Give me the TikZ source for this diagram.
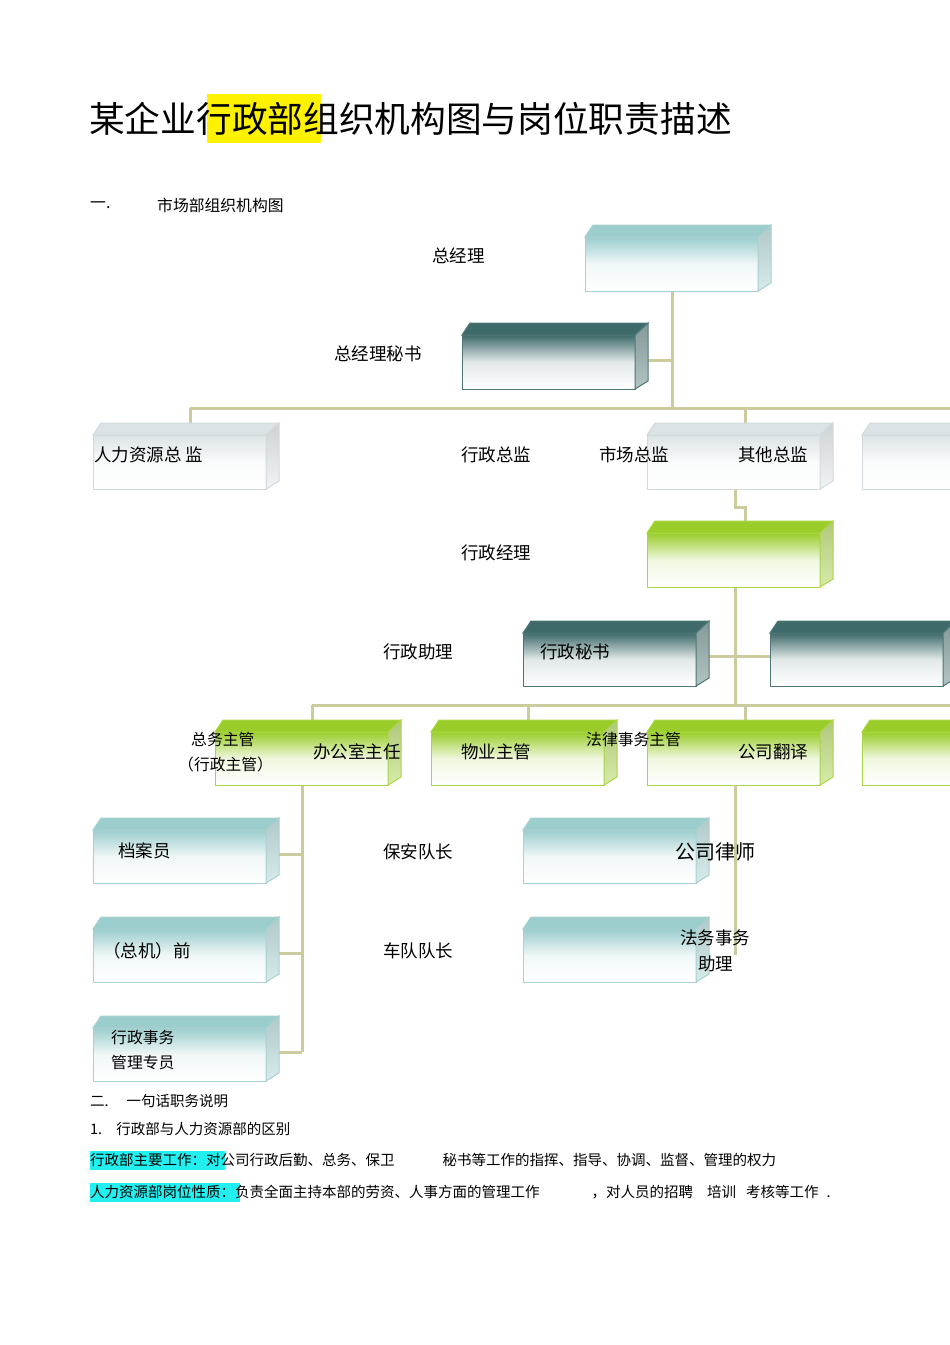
\documentclass[tikz,border=0pt]{standalone}
\usepackage{fontspec}
\setmainfont{Noto Sans CJK SC}
\begin{document}
\begin{tikzpicture}[x=1pt,y=-1pt,
  lbl/.style={anchor=west,inner sep=0pt,font=\fontsize{17.5}{20}\selectfont},
  sm/.style={anchor=west,inner sep=0pt,font=\fontsize{14.5}{16}\selectfont},
  sml/.style={anchor=west,inner sep=0pt,font=\fontsize{15.8}{18}\selectfont},
  conn/.style={draw=tan,line width=3pt}]
\definecolor{tan}{HTML}{CBCB9E}
\definecolor{teal1}{HTML}{9CCDCD}\definecolor{tealE}{HTML}{A8D0D0}
\definecolor{dark1}{HTML}{3F6A6A}\definecolor{darkE}{HTML}{4E7676}
\definecolor{grey1}{HTML}{DCE3E6}\definecolor{greyE}{HTML}{D2DADD}
\definecolor{grn1}{HTML}{9ACD2A}\definecolor{grnE}{HTML}{A8D645}
\definecolor{hl}{HTML}{22F0F0}
\useasboundingbox (0,0) rectangle (950,1345);
\newcommand\cubebox[7]{%
  \shade[top color=#5,bottom color=white,middle color=#5!15!white,draw=#6,line width=1pt] (#1,#2) rectangle (#3,#4);
  \fill[#5,draw=#6,line width=1pt] (#1,#2)--(#1+8,#2-12)--(#3+13,#2-12)--(#3,#2)--cycle;
  \shade[top color=#5!80!black!60!white,bottom color=#5!40!white,draw=#6,line width=1pt] (#3,#2)--(#3+13,#2-12)--(#3+13,#4-8)--(#3,#4)--cycle;
  \coordinate (#7) at ({(#1+#3)/2},#4);}
% connectors
\draw[conn] (672,291)--(672,408);
\draw[conn] (648,360)--(672,360);
\draw[conn] (190,408)--(950,408);
\draw[conn] (190,408)--(190,424);
\draw[conn] (745,408)--(745,424);
\draw[conn] (735,489)--(735,507)--(745,507)--(745,522);
\draw[conn] (735,587)--(735,705);
\draw[conn] (709,656)--(770,656);
\draw[conn] (312,705)--(950,705);
\foreach \x in {312,528,745} \draw[conn] (\x,705)--(\x,721);
\draw[conn] (302,785)--(302,1052);
\foreach \y in {854,953,1052} \draw[conn] (279,\y)--(302,\y);
% boxes
\cubebox{585}{237}{758}{291}{teal1}{tealE}{gm}
\cubebox{462}{335}{635}{389}{dark1}{darkE}{sec}
\cubebox{93}{435}{266}{489}{grey1}{greyE}{hr}
\cubebox{647}{435}{820}{489}{grey1}{greyE}{od}
\cubebox{862}{435}{1035}{489}{grey1}{greyE}{od2}
\cubebox{647}{533}{820}{587}{grn1}{grnE}{am}
\cubebox{523}{633}{696}{686}{dark1}{darkE}{as}
\cubebox{770}{633}{943}{686}{dark1}{darkE}{as2}
\cubebox{215}{732}{388}{785}{grn1}{grnE}{om}
\cubebox{431}{732}{604}{785}{grn1}{grnE}{pm}
\cubebox{647}{732}{820}{785}{grn1}{grnE}{tr}
\cubebox{862}{732}{1035}{785}{grn1}{grnE}{g4}
\cubebox{93}{830}{266}{883}{teal1}{tealE}{ar}
\cubebox{93}{929}{266}{982}{teal1}{tealE}{fd}
\cubebox{93}{1028}{266}{1081}{teal1}{tealE}{ad}
\cubebox{523}{830}{696}{883}{teal1}{tealE}{lw}
\cubebox{523}{929}{696}{982}{teal1}{tealE}{la}
\draw[conn] (735,785)--(735,955);
% title
\fill[yellow] (207,94) rectangle (321,143);
\node[anchor=west,inner sep=0pt,font=\fontsize{35.7}{40}\selectfont] (title) at (89,119) {某企业行政部组织机构图与岗位职责描述};
\node[sml] (s1) at (90,205) {一.};
\node[sml] (s1t) at (157,205) {市场部组织机构图};
\node[lbl] (t1) at (432,256) {总经理};
\node[lbl] (t2) at (334,354) {总经理秘书};
\node[lbl] (t3) at (94,455) {人力资源总\ 监};
\node[lbl] (t4) at (461,455) {行政总监};
\node[lbl] (t5) at (599,455) {市场总监};
\node[lbl] (t6) at (738,455) {其他总监};
\node[lbl] (t7) at (461,553) {行政经理};
\node[lbl] (t8) at (383,652) {行政助理};
\node[lbl] (t9) at (540,652) {行政秘书};
\node[sml] (t10) at (191,739) {总务主管};
\node[sml] (t11) at (178,764) {（行政主管）};
\node[lbl] (t12) at (313,752) {办公室主任};
\node[lbl] (t13) at (461,752) {物业主管};
\node[sml] (t14) at (586,739) {法律事务主管};
\node[lbl] (t15) at (738,752) {公司翻译};
\node[lbl] (t16) at (118,851) {档案员};
\node[lbl] (t17) at (383,852) {保安队长};
\node[lbl,font=\fontsize{20}{22}\selectfont] (t18) at (675,852) {公司律师};
\node[lbl] (t19) at (103,951) {（总机）前};
\node[lbl] (t20) at (383,951) {车队队长};
\node[lbl] (t21) at (680,938) {法务事务};
\node[lbl] (t22) at (698,964) {助理};
\node[sml] (t23) at (111,1037) {行政事务};
\node[sml] (t24) at (111,1062) {管理专员};
\node[sm] (b1) at (90,1101) {二.\hspace{18pt}一句话职务说明};
\node[sm] (b2) at (90,1129) {1.\hspace{14pt}行政部与人力资源部的区别};
\fill[hl] (90,1151) rectangle (225,1170);
\node[sm] (b3) at (90,1160) {行政部主要工作：对公司行政后勤、总务、保卫\hspace{48pt}秘书等工作的指挥、指导、协调、监督、管理的权力};
\fill[hl] (90,1183) rectangle (240,1202);
\node[sm] (b4) at (90,1192) {人力资源部岗位性质：负责全面主持本部的劳资、人事方面的管理工作\hspace{52pt}，对人员的招聘\hspace{14pt}培训\hspace{10pt}考核等工作\hspace{8pt}.};
\end{tikzpicture}
\end{document}
